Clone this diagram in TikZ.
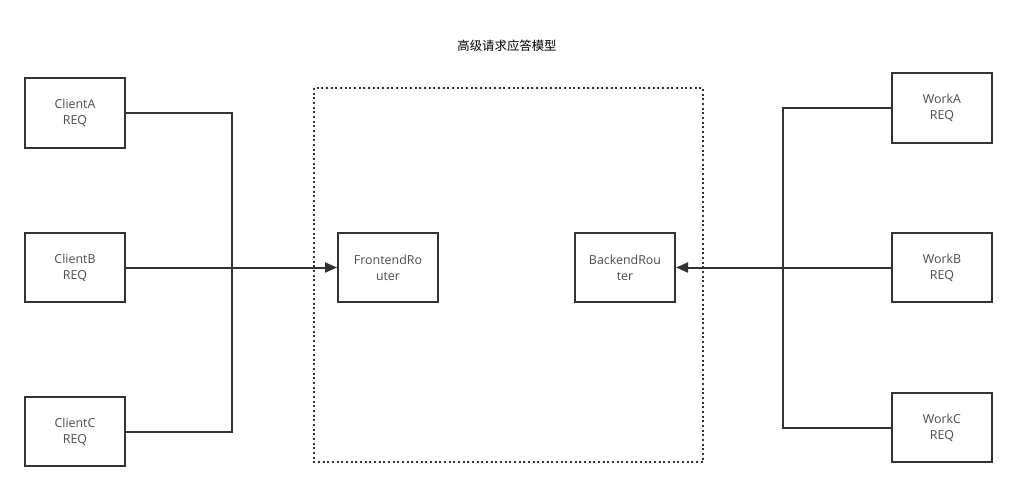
\documentclass[tikz,border=0pt]{standalone}
\usepackage{fontspec}
\setmainfont{Open Sans}
\newfontfamily\cjk{Noto Sans CJK SC}
\usetikzlibrary{arrows.meta}
\definecolor{linec}{HTML}{333333}
\definecolor{textc}{HTML}{4D4D4D}
\begin{document}
\begin{tikzpicture}[x=0.75pt,y=-0.75pt,
  boxstyle/.style={draw=linec,line width=1.5pt,fill=white,minimum width=75pt,minimum height=52pt,inner sep=0pt,align=center,font=\fontsize{9.3}{12}\selectfont,text=textc},
  conn/.style={draw=linec,line width=1.5pt},
  arr/.style={conn,-{Triangle[length=9pt,width=7.5pt]}}]
\useasboundingbox (0,0) rectangle (1017,492);
\node[font=\cjk\fontsize{9.3}{11}\selectfont,text=black] (title) at (507,46) {高级请求应答模型};
\draw[linec,line width=1.5pt,dotted] (314,88) rectangle (703,462);
\node[boxstyle] (ca) at (75,113) {ClientA\\REQ};
\node[boxstyle] (cb) at (75,267.5) {ClientB\\REQ};
\node[boxstyle] (cc) at (75,431.5) {ClientC\\REQ};
\node[boxstyle] (fr) at (388,267.5) {FrontendRo\\uter};
\node[boxstyle] (br) at (625,267.5) {BackendRou\\ter};
\node[boxstyle] (wa) at (942,108) {WorkA\\REQ};
\node[boxstyle] (wb) at (942,267.5) {WorkB\\REQ};
\node[boxstyle] (wc) at (942,427.5) {WorkC\\REQ};
\coordinate (lj) at (232,267.5);
\coordinate (rj) at (783,267.5);
\draw[conn] (ca.east) -| (lj);
\draw[conn] (cc.east) -| (lj);
\draw[arr] (cb.east) -- (fr.west);
\draw[conn] (wa.west) -| (rj);
\draw[conn] (wc.west) -| (rj);
\draw[arr] (wb.west) -- (br.east);
\end{tikzpicture}
\end{document}
